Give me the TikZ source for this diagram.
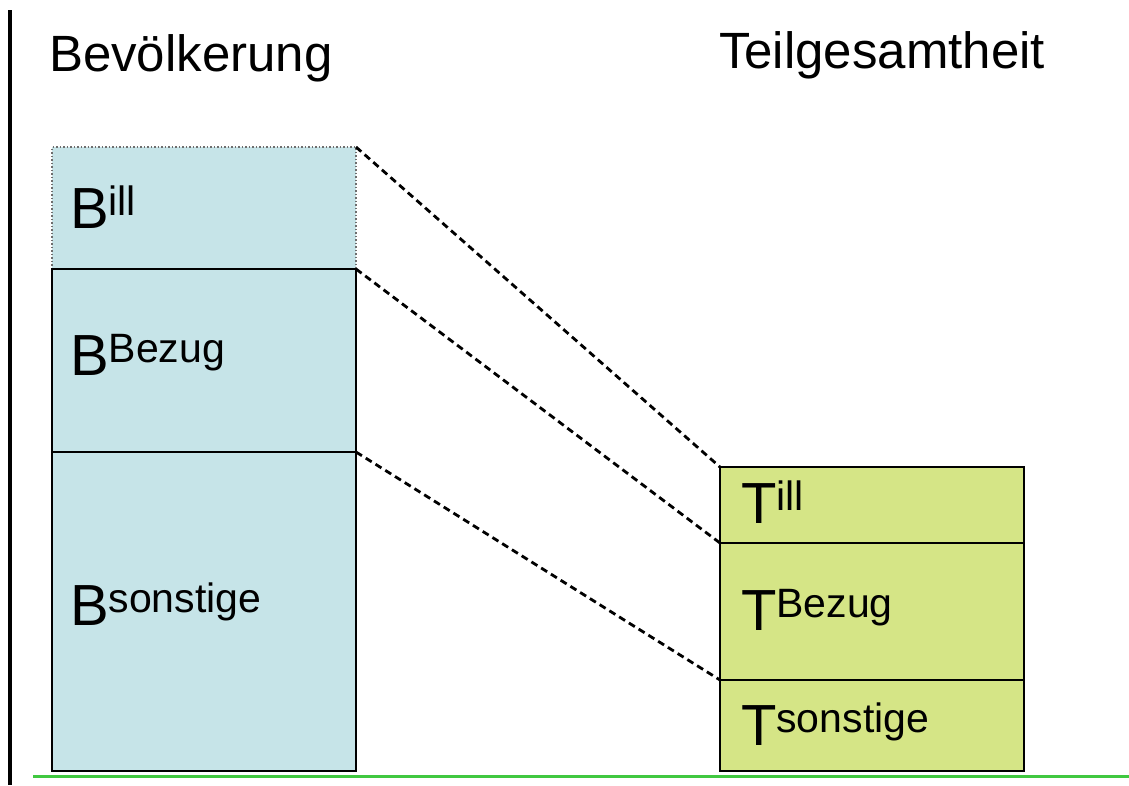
\documentclass[tikz,border=0pt]{standalone}
\usepackage{fontspec}
\setmainfont{Liberation Sans}
\definecolor{boxblue}{RGB}{198,228,232}
\definecolor{boxgreen}{RGB}{213,229,134}
\definecolor{greenline}{RGB}{64,200,64}
\definecolor{dotgrey}{RGB}{110,110,110}
\newcommand{\lab}[2]{{\fontsize{58}{60}\selectfont #1}\raisebox{13pt}{\fontsize{41}{43}\selectfont #2}}
\begin{document}
\begin{tikzpicture}[x=1pt,y=-1pt,
  bluebox/.style={rectangle,fill=boxblue,draw=black,line width=2.5pt,anchor=north west,inner sep=0pt,outer sep=0pt,minimum width=304pt},
  greenbox/.style={rectangle,fill=boxgreen,draw=black,line width=2.5pt,anchor=north west,inner sep=0pt,outer sep=0pt,minimum width=304pt},
  labeltext/.style={anchor=base west,inner sep=0pt,outer sep=0pt},
  titletext/.style={anchor=base west,inner sep=0pt,outer sep=0pt,font=\fontsize{51}{54}\selectfont},
  dashline/.style={draw=black,line width=2.8pt,dash pattern=on 7pt off 4.5pt},
  dotline/.style={draw=dotgrey,line width=1.5pt,dotted}]
\useasboundingbox (0,0) rectangle (1129,785);
% left rule and bottom green line
\coordinate (vtop) at (10,10);
\coordinate (vbot) at (10,785);
\draw[line width=3.2pt] (vtop) -- (vbot);
\coordinate (gl) at (33,776);
\coordinate (gr) at (1129,776);
\draw[greenline,line width=3pt] (gl) -- (gr);
% titles
\node[titletext] (tb) at (49,71) {Bevölkerung};
\node[titletext] (tt) at (719,68) {Teilgesamtheit};
% left boxes
\node[bluebox,draw=none,minimum height=122pt] (bill) at (52,147) {};
\draw[dotline] (bill.south west) -- (bill.north west) -- (bill.north east) -- (bill.south east);
\node[bluebox,minimum height=183pt] (bbez) at (52,269) {};
\node[bluebox,minimum height=319pt] (bson) at (52,452) {};
% right boxes
\node[greenbox,minimum height=76pt] (till) at (720,467) {};
\node[greenbox,minimum height=137pt] (tbez) at (720,543) {};
\node[greenbox,minimum height=91pt] (tson) at (720,680) {};
% labels
\node[labeltext] (lbill) at (70,228) {\lab{B}{ill}};
\node[labeltext] (lbbez) at (70,375) {\lab{B}{Bezug}};
\node[labeltext] (lbson) at (70,625) {\lab{B}{sonstige}};
\node[labeltext] (ltill) at (741,523) {\lab{T}{ill}};
\node[labeltext] (ltbez) at (741,630) {\lab{T}{Bezug}};
\node[labeltext] (ltson) at (741,745) {\lab{T}{sonstige}};
% dashed connectors
\draw[dashline] (bill.north east) -- (till.north west);
\draw[dashline] (bbez.north east) -- (tbez.north west);
\draw[dashline] (bson.north east) -- (tson.north west);
\end{tikzpicture}
\end{document}
